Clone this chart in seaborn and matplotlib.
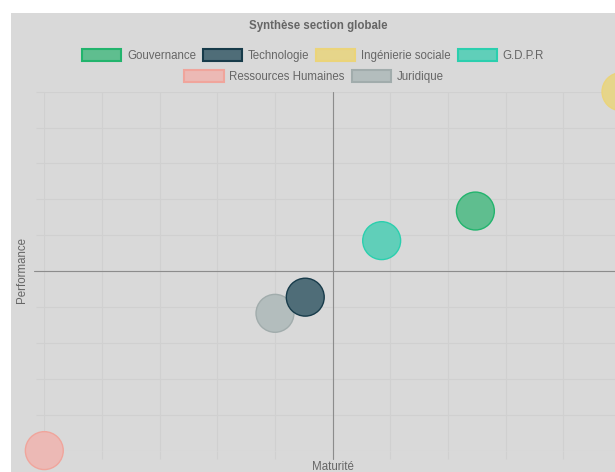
import numpy as np
import pandas as pd
import seaborn as sns
import matplotlib.pyplot as plt
from matplotlib.patches import Patch, Rectangle

# Données
domaines = ['Gouvernance', 'Technologie', 'Ingénierie sociale', 'G.D.P.R',
            'Ressources Humaines', 'Juridique']
maturite = [49.5, -9.5, 100, 17, -100, -20]
performance = [33.5, -14.5, 100, 17, -100, -23.5]

couleurs_fond = ['#5fbe8f', '#4f6d78', '#e6d58a', '#60cfb9', '#ecb9b5', '#b3bdbd']
couleurs_bord = ['#22b46d', '#173b4a', '#ebd47a', '#2bcfae', '#f0a59c', '#a1acac']

df = pd.DataFrame({'domaine': domaines, 'maturite': maturite,
                   'performance': performance})

sns.set_theme(style='white')
plt.rcParams['font.family'] = ['Liberation Sans', 'DejaVu Sans']

W, H = 615, 472
fig = plt.figure(figsize=(W / 100, H / 100), dpi=100, facecolor='white')
# fond gris du canvas
fig.patches.append(Rectangle((11 / W, 0), 1, (H - 13) / H, transform=fig.transFigure,
                             facecolor='#d9d9d9', edgecolor='none', zorder=-10))

left, right, top, bottom = 44.3, 621, 91.7, 450.6
ax = fig.add_axes([left / W, (H - bottom) / H, (right - left) / W, (bottom - top) / H])
ax.set_facecolor('none')

# premier jeu de données dessiné au-dessus (comme Chart.js)
ordre = df.iloc[::-1]
sns.scatterplot(data=ordre, x='maturite', y='performance', hue='domaine',
                palette=dict(zip(domaines, couleurs_fond)), s=745, legend=False,
                ax=ax, clip_on=False, zorder=5)
bords = dict(zip(domaines, couleurs_bord))
ax.collections[0].set_edgecolor([bords[d] for d in ordre['domaine']])
ax.collections[0].set_linewidth(1.0)

ax.set_xlim(-100, 100)
ax.set_ylim(-100, 100)
ax.set_xticks(np.linspace(-100, 100, 11))
ax.set_yticks(np.linspace(-100, 100, 11))
ax.grid(True, color='#d0d0d0', linewidth=0.75)
ax.tick_params(length=5.8, width=0.75, color='#d0d0d0', labelbottom=False,
               labelleft=False, bottom=True, left=True)
for s in ax.spines.values():
    s.set_visible(False)
ax.set_xlabel('')
ax.set_ylabel('')

# axes du zéro
ax.axhline(0, xmin=-10 / (right - left), xmax=1, color='#8c8c8c', lw=0.8,
           clip_on=False, zorder=3)
ax.axvline(0, ymin=-8 / (bottom - top), ymax=1, color='#8c8c8c', lw=0.8,
           clip_on=False, zorder=3)

# titres
gris = '#666666'
fs = 8.3
fig.text(318 / W, (H - 25.5) / H, 'Synthèse section globale', ha='center', va='center',
         fontsize=fs, fontweight='bold', color=gris)
fig.text(332.5 / W, 1.5 / H, 'Maturité', ha='center', va='baseline', fontsize=fs, color=gris)
fig.text(22.5 / W, (H - 270) / H, 'Performance', ha='center', va='center', rotation=90,
         fontsize=fs, color=gris)

# légende sur deux lignes centrées
poignees = [Patch(facecolor=f, edgecolor=b, linewidth=1.5)
            for f, b in zip(couleurs_fond, couleurs_bord)]
opts = dict(loc='center', frameon=False, fontsize=fs, labelcolor=gris,
            handlelength=3.4, handleheight=1.15, handletextpad=0.5,
            columnspacing=0.6, borderpad=0, bbox_transform=fig.transFigure)
fig.legend(poignees[:4], domaines[:4], ncol=4,
           bbox_to_anchor=(313 / W, (H - 55.5) / H), **opts)
fig.legend(poignees[4:], domaines[4:], ncol=2,
           bbox_to_anchor=(314 / W, (H - 76.5) / H), **opts)

plt.savefig('out.png', dpi=100, facecolor='white')
